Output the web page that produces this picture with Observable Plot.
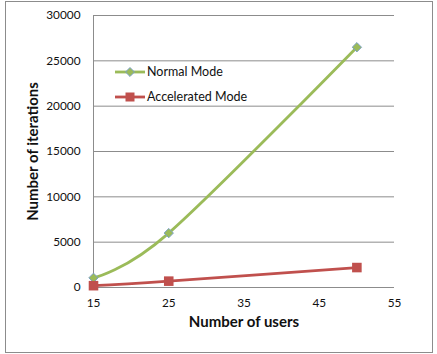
<!DOCTYPE html>
<html>
<head>
<meta charset="utf-8">
<script src="https://cdn.jsdelivr.net/npm/d3@7"></script>
<script src="https://cdn.jsdelivr.net/npm/@observablehq/plot@0.6"></script>
<style>
  html, body { margin: 0; padding: 0; background: #fff; }
  #wrap { position: relative; width: 437px; height: 354px; }
  #border { position: absolute; left: 5px; top: 1px; width: 426px; height: 350px; border: 1px solid #8c8c8c; pointer-events: none; }
  #legend { position: absolute; left: 115px; top: 59px; font-family: Lato, sans-serif; font-size: 12.5px; color: #111; }
  #legend .item { display: flex; align-items: center; height: 25px; }
  #legend svg { margin-right: 2px; }
</style>
</head>
<body>
<div id="wrap">
  <div id="chart"></div>
  <div id="legend"></div>
  <div id="border"></div>
</div>
<script>
// Users on the x axis, iterations on the y axis
const users = [15, 25, 50];
const normalMode = [1070, 6000, 26500];
const acceleratedMode = [200, 700, 2200];
const seriesNames = ["Normal Mode", "Accelerated Mode"];
const seriesColors = ["#9bbb59", "#c0504d"];
const xTicks = [15, 25, 35, 45, 55];
const yTicks = [0, 5000, 10000, 15000, 20000, 25000, 30000];

const normal = users.map((u, i) => ({users: u, iterations: normalMode[i], series: seriesNames[0]}));
const accel = users.map((u, i) => ({users: u, iterations: acceleratedMode[i], series: seriesNames[1]}));

const chart = Plot.plot({
  width: 437,
  height: 354,
  marginLeft: 93,
  marginRight: 43,
  marginTop: 15,
  marginBottom: 67,
  style: {fontFamily: "Lato, sans-serif", fontSize: "11.8px", color: "#111", background: "transparent"},
  x: {domain: [15, 55]},
  y: {domain: [0, 30000]},
  marks: [
    Plot.gridY(yTicks, {stroke: "#8c8c8c", strokeOpacity: 1}),
    Plot.ruleX([15], {stroke: "#8c8c8c"}),
    Plot.axisX(xTicks, {tickSize: 0, tickPadding: 11, label: null}),
    Plot.axisY(yTicks, {tickSize: 0, tickPadding: 13, label: null, tickFormat: d => String(d)}),
    Plot.text(["Number of iterations"], {frameAnchor: "left", textAnchor: "middle", dx: -60, rotate: -90, fontWeight: "bold", fontSize: 15, fill: "#111"}),
    Plot.text(["Number of users"], {frameAnchor: "bottom", dy: 39, fontWeight: "bold", fontSize: 15, fill: "#111"}),
    Plot.line(normal, {x: "users", y: "iterations", stroke: seriesColors[0], strokeWidth: 2.8, curve: "cardinal", tension: 0}),
    Plot.line(accel, {x: "users", y: "iterations", stroke: seriesColors[1], strokeWidth: 2.8, curve: "cardinal", tension: 0}),
    Plot.dot(normal, {x: "users", y: "iterations", symbol: "diamond2", r: 4.2, fill: seriesColors[0], stroke: "#7ba0c8", strokeWidth: 1}),
    Plot.dot(accel, {x: "users", y: "iterations", symbol: "square", r: 5.4, fill: seriesColors[1], stroke: "none"})
  ]
});
document.getElementById("chart").appendChild(chart);

// Legend inside the plot area
const legend = d3.select("#legend");
seriesNames.forEach((name, i) => {
  const item = legend.append("div").attr("class", "item");
  const svg = item.append("svg").attr("width", 30).attr("height", 12);
  svg.append("line").attr("x1", 0).attr("x2", 30).attr("y1", 6).attr("y2", 6)
    .attr("stroke", seriesColors[i]).attr("stroke-width", 2.8);
  if (i === 0) {
    svg.append("path").attr("d", d3.symbol(d3.symbolDiamond2, 51)()).attr("transform", "translate(15,6)")
      .attr("fill", seriesColors[0]).attr("stroke", "#7ba0c8");
  } else {
    svg.append("rect").attr("x", 10.5).attr("y", 1.5).attr("width", 9).attr("height", 9).attr("fill", seriesColors[1]);
  }
  item.append("span").text(name);
});
</script>
</body>
</html>
